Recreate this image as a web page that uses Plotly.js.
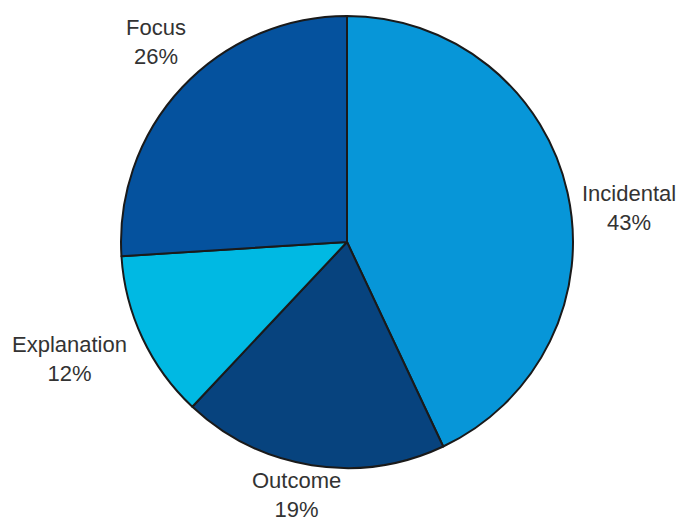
<!DOCTYPE html>
<html>
<head>
<meta charset="utf-8">
<script src="https://cdn.plot.ly/plotly-3.0.1.min.js"></script>
<style>html,body{margin:0;padding:0;background:#fff;}#chart{width:681px;height:521px;}</style>
</head>
<body>
<div id="chart"></div>
<script>
const categories = ["Incidental", "Outcome", "Explanation", "Focus"];
const shares = [43, 19, 12, 26];
const sliceColors = ["#0796d8", "#07437e", "#00b9e3", "#05529e"];

// label placement (paper fractions) for each category's outside label
const labelX = [0.924, 0.436, 0.102, 0.229];
const labelY = [0.600, 0.049, 0.311, 0.920];

const trace = {
  type: "pie",
  labels: categories,
  values: shares,
  sort: false,
  direction: "clockwise",
  rotation: 0,
  marker: { colors: sliceColors, line: { color: "#1a1a1a", width: 2 } },
  textinfo: "none",
  hoverinfo: "none",
  automargin: false,
  domain: { x: [0.1777, 0.8414], y: [0.1017, 0.9693] },
  showlegend: false
};

const annotations = categories.map((c, i) => ({
  text: c + "<br>" + shares[i] + "%",
  x: labelX[i], y: labelY[i],
  xref: "paper", yref: "paper",
  xanchor: "center", yanchor: "middle",
  align: "center",
  showarrow: false,
  font: { family: "Liberation Sans, Arial, sans-serif", size: 22, color: "#333333" }
}));

Plotly.newPlot("chart", [trace], {
  width: 681, height: 521,
  margin: { l: 0, r: 0, t: 0, b: 0 },
  paper_bgcolor: "#ffffff",
  showlegend: false,
  annotations: annotations
}, { staticPlot: true });
</script>
</body>
</html>
